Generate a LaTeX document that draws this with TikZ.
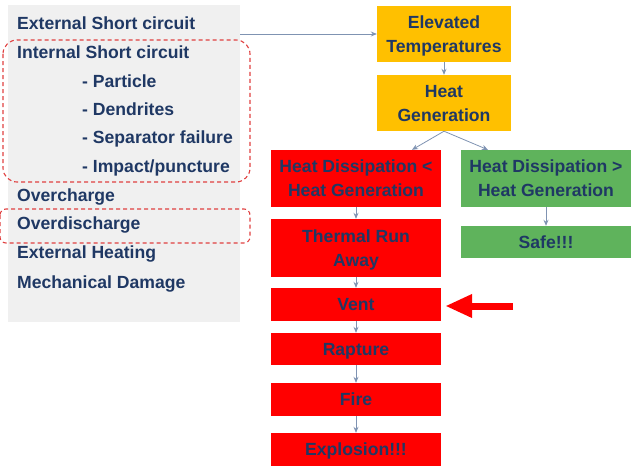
\documentclass[tikz,border=0pt]{standalone}
\usepackage{fontspec}
\setmainfont{Liberation Sans}
\usepackage{xcolor}
\usepackage{tikz}
\usetikzlibrary{arrows.meta,calc}
\definecolor{panel}{HTML}{F0F0F0}
\definecolor{navy}{HTML}{1F3864}
\definecolor{amber}{HTML}{FFC000}
\definecolor{alarm}{HTML}{FF0000}
\definecolor{okgreen}{HTML}{5FB35C}
\definecolor{link}{HTML}{7F93B2}
\definecolor{dashred}{HTML}{E04040}
\tikzset{
  item/.style={anchor=west, inner sep=0pt, text=navy, font=\fontsize{17.6}{21}\selectfont\bfseries, text height=12.6pt, text depth=0pt},
  box/.style={rectangle, inner sep=0pt, align=center, text=navy, font=\fontsize{17.6}{24}\selectfont\bfseries, text depth=0pt, minimum width=170pt},
  hot/.style={box, fill=alarm},
  cool/.style={box, fill=okgreen},
  warm/.style={box, fill=amber, minimum width=134pt, minimum height=56pt},
  flow/.style={-{Stealth[length=6pt,width=5pt]}, line width=0.8pt, draw=link},
  hilite/.style={draw=dashred, dash pattern=on 4pt off 3pt, line width=1.1pt, rounded corners=14pt}
}
\begin{document}
\begin{tikzpicture}[x=1pt,y=-1pt]
  \useasboundingbox (0,0) rectangle (632,466);

  % causes
  \node[fill=panel, minimum width=232pt, minimum height=317pt, inner sep=0pt] (causes) at (124,163.5) {};
  \node[item] (esc) at (17,23) {External Short circuit};
  \node[item] (isc) at (17,52) {Internal Short circuit};
  \node[item] (part) at (82,81) {- Particle};
  \node[item] (dend) at (82,109) {- Dendrites};
  \node[item] (sep) at (82,137) {- Separator failure};
  \node[item] (imp) at (82,166) {- Impact/puncture};
  \node[item] (ovc) at (17,195) {Overcharge};
  \node[item] (ovd) at (17,223) {Overdischarge};
  \node[item] (heating) at (17,252) {External Heating};
  \node[item] (mech) at (17,282) {Mechanical Damage};

  % highlighted causes
  \draw[hilite] (3,40) rectangle (250,182);
  \draw[hilite, rounded corners=6pt] (0,209) rectangle (250,243);

  % chain of events
  \node[warm] (elev) at (444,34) {Elevated\\Temperatures};
  \node[warm] (heat) at (444,103) {Heat\\Generation};
  \node[hot, minimum height=57pt] (lose) at (356,178.5) {Heat Dissipation <\\Heat Generation};
  \node[cool, minimum height=57pt] (win) at (546,178.5) {Heat Dissipation >\\Heat Generation};
  \node[cool, minimum height=32pt] (safe) at (546,242) {Safe!!!};
  \node[hot, minimum height=58pt] (runaway) at (356,248) {Thermal Run\\Away};
  \node[hot, minimum height=33pt] (vent) at (356,304.5) {Vent};
  \node[hot, minimum height=32pt] (rapture) at (356,349) {Rapture};
  \node[hot, minimum height=33pt] (fire) at (356,399.5) {Fire};
  \node[hot, minimum height=33pt] (boom) at (356,449.5) {Explosion!!!};

  % links
  \draw[flow] (elev.west -| causes.east) -- (elev.west);
  \draw[flow] (elev) -- (heat);
  \draw[flow] (heat.south) -- ([xshift=56pt]lose.north);
  \draw[flow] (heat.south) -- ([xshift=-58pt]win.north);
  \draw[flow] (win) -- (safe);
  \draw[flow] (lose) -- (runaway);
  \draw[flow] (runaway) -- (vent);
  \draw[flow] (vent) -- (rapture);
  \draw[flow] (rapture) -- (fire);
  \draw[flow] (fire) -- (boom);

  % pointer
  \coordinate (tail) at (513,306);
  \draw[-{Triangle[length=27pt,width=22pt]}, line width=7pt, draw=alarm, shorten >=4pt] (tail) -- (vent.east |- tail);
\end{tikzpicture}
\end{document}
